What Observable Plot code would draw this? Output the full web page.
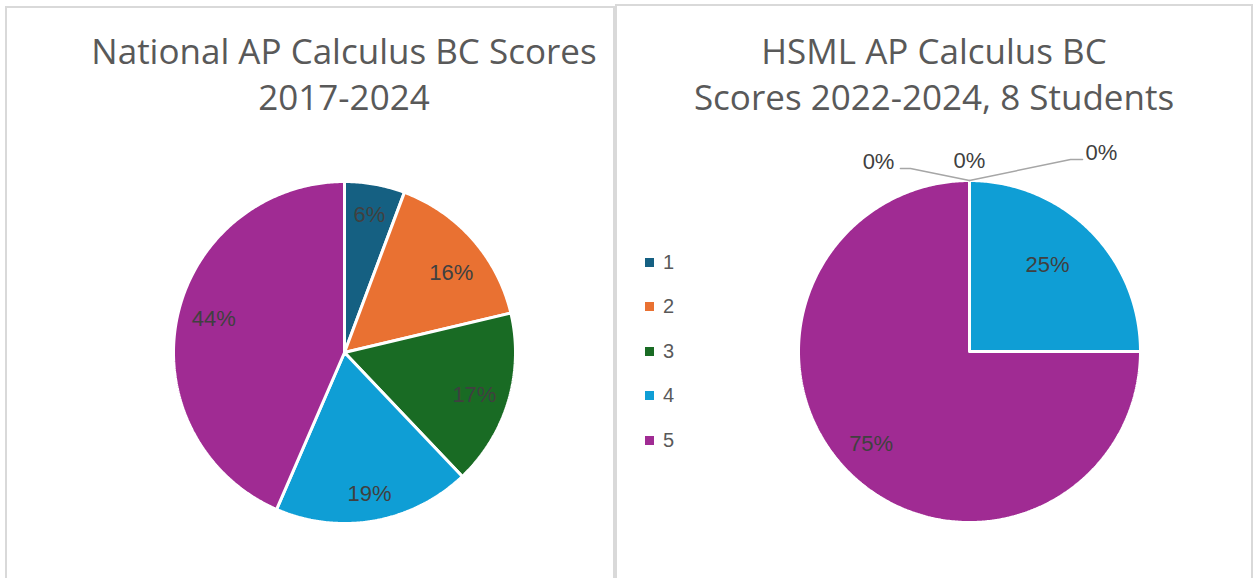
<!DOCTYPE html>
<html><head><meta charset="utf-8">
<script src="https://cdn.jsdelivr.net/npm/d3@7"></script>
<script src="https://cdn.jsdelivr.net/npm/@observablehq/plot@0.6"></script>
<style>
body{margin:0;background:#fff;}
#root{position:relative;width:1253px;height:578px;overflow:hidden;background:#fff;}
.panel{position:absolute;border:2px solid #d9d9d9;border-bottom:none;box-sizing:border-box;height:600px;}
.title{position:absolute;text-align:center;font-family:"Open Sans",sans-serif;font-size:35px;line-height:46px;color:#595959;white-space:nowrap;}
.chart{position:absolute;left:0;top:0;}
.legend{position:absolute;font-family:"Liberation Sans",Arial,sans-serif;font-size:20px;color:#595959;}
.legend div{position:absolute;white-space:nowrap;line-height:22px;}
.legend span.sw{display:inline-block;width:9px;height:9px;margin-right:9px;vertical-align:2px;}
</style></head><body><div id="root"></div>
<script>
// ---- data ----
const scores = ["1", "2", "3", "4", "5"];
const nationalPct = [5.7, 15.6, 16.6, 18.6, 43.5];   // % of national scores 2017-2024
const hsmlCounts = [0, 0, 0, 2, 6];                 // HSML students 2022-2024 (8 total)
const colors = ["#156082", "#E97132", "#196B24", "#0F9ED5", "#A02B93"];
const nationalTitle = ["National AP Calculus BC Scores", "2017-2024"];
const hsmlTitle = ["HSML AP Calculus BC", "Scores 2022-2024, 8 Students"];

// ---- layout (pixels / radius units) ----
const layout = {
  left: {cx: 344, cy: 352, r: 171, w: 614, labelR: [0.82, 0.78, 0.80, 0.84, 0.79], labelShift: [0, 0.08, 0.03, 0, 0.05]},
  right: {cx: 969 - 615, cy: 351, r: 171, w: 638, labelR: [0, 0, 0, 0.68, 0.79], labelShift: [0, 0, 0, -0.05, 0.03],
    zeroLabels: [[-0.532, 1.111], [0, 1.117], [0.772, 1.164]],
    leaders: [[[-0.404, 1.070], [-0.345, 1.070], [0, 1.0]], [[0, 1.0], [0.591, 1.123], [0.661, 1.123]]]}
};

function pieData(values) {
  const total = d3.sum(values);
  const arcs = d3.pie().sort(null).value(d => d)(values);
  const pts = [], labels = [];
  arcs.forEach((a, i) => {
    const s = scores[i];
    if (values[i] > 0) {
      const n = Math.max(2, Math.ceil((a.endAngle - a.startAngle) / 0.01));
      pts.push({score: s, x: 0, y: 0});
      for (let k = 0; k <= n; k++) {
        const t = a.startAngle + (a.endAngle - a.startAngle) * k / n;
        pts.push({score: s, x: Math.sin(t), y: Math.cos(t)});
      }
      pts.push({score: s, x: 0, y: 0});
    }
    labels.push({score: s, i, text: Math.round(values[i] / total * 100) + "%", mid: (a.startAngle + a.endAngle) / 2, zero: values[i] === 0});
  });
  return {pts, labels};
}

function pieChart(values, L) {
  const {pts, labels} = pieData(values);
  const inside = labels.filter(d => !d.zero).map(d => {
    const a = d.mid + L.labelShift[d.i];
    return {...d, x: L.labelR[d.i] * Math.sin(a), y: L.labelR[d.i] * Math.cos(a)};
  });
  const zeros = labels.filter(d => d.zero).map((d, j) => ({...d, x: L.zeroLabels[j][0], y: L.zeroLabels[j][1]}));
  const leaderPts = (L.leaders || []).flatMap((seg, j) => seg.map(p => ({g: j, x: p[0], y: p[1]})));
  return Plot.plot({
    width: L.w, height: 578, margin: 0,
    style: {background: "transparent", fontFamily: "'Liberation Sans', Arial, sans-serif"},
    x: {domain: [-1, 1], range: [L.cx - L.r, L.cx + L.r], axis: null},
    y: {domain: [-1, 1], range: [L.cy + L.r, L.cy - L.r], axis: null},
    color: {domain: scores, range: colors},
    marks: [
      Plot.line(pts, {x: "x", y: "y", z: "score", fill: "score", stroke: "white", strokeWidth: 3, strokeLinejoin: "miter", curve: "linear"}),
      Plot.line(leaderPts, {x: "x", y: "y", z: "g", stroke: "#a6a6a6", strokeWidth: 1.5}),
      Plot.text(inside, {x: "x", y: "y", text: "text", fill: "#404040", fontSize: 22}),
      Plot.text(zeros, {x: "x", y: "y", text: "text", fill: "#404040", fontSize: 22})
    ]
  });
}

const root = document.getElementById("root");
function panel(left, top, width) {
  const p = document.createElement("div");
  p.className = "panel";
  Object.assign(p.style, {left: left + "px", top: top + "px", width: width + "px"});
  root.appendChild(p);
  return p;
}
function title(lines, centerX, top) {
  const t = document.createElement("div");
  t.className = "title";
  t.style.left = (centerX - 300) + "px";
  t.style.width = "600px";
  t.style.top = top + "px";
  t.innerHTML = lines.join("<br>");
  root.appendChild(t);
}

panel(5, 6, 610);
panel(615, 4, 638);

const c1 = pieChart(nationalPct, layout.left);
c1.classList.add("chart");
c1.style.left = "0px";
root.appendChild(c1);

const c2 = pieChart(hsmlCounts, layout.right);
c2.classList.add("chart");
c2.style.left = "615px";
root.appendChild(c2);

title(nationalTitle, 344, 28);
title(hsmlTitle, 934, 28);

const lg = document.createElement("div");
lg.className = "legend";
lg.style.left = "645px";
lg.style.top = "0px";
const legendY = [262, 306, 351, 395, 440];
scores.forEach((s, i) => {
  const row = document.createElement("div");
  row.style.top = (legendY[i] - 11) + "px";
  row.innerHTML = `<span class="sw" style="background:${colors[i]}"></span>${s}`;
  lg.appendChild(row);
});
root.appendChild(lg);
</script></body></html>
